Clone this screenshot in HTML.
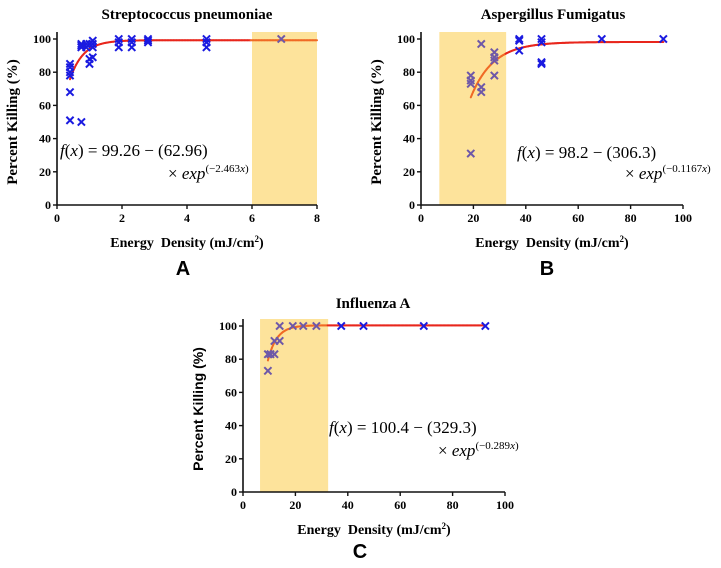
<!DOCTYPE html>
<html><head><meta charset="utf-8"><style>
body{margin:0;background:#fff;width:721px;height:568px;overflow:hidden}
svg{display:block}
.tk{font-family:"Liberation Serif",serif;font-weight:bold;font-size:12px}
.ti{font-family:"Liberation Serif",serif;font-weight:bold;font-size:15px}
.eq{font-family:"Liberation Serif",serif;font-size:17px}
.lt{font-family:"Liberation Sans",sans-serif;font-weight:bold;font-size:20px}
</style></head><body>
<svg id="fig" width="721" height="568"></svg>
<script>
// Panel A data
const aX=[0.4,0.4,0.4,0.4,0.4,0.4,0.75,0.75,0.75,0.75,0.9,0.9,1.0,1.0,1.0,1.1,1.1,1.1,1.1,1.9,1.9,1.9,2.3,2.3,2.3,2.8,2.8,2.8,4.6,4.6,4.6,6.9];
const aY=[85,83,80,78,68,51,97,96,95,50,97,95,88,85,97,99,97,95,89,100,98,95,100,98,95,100,99,98,100,98,95,100];
const aFit=[99.26,62.96,2.463];
// Panel B data
const bX=[19,19,19,19,23,23,23,28,28,28,28,37.5,37.5,37.5,46,46,46,46,69,92.5];
const bY=[78,75,73,31,97,71,68,92,89,87,78,100,99,93,100,98,86,85,100,100];
const bFit=[98.2,306.3,0.1167];
// Panel C data
const cX=[9.5,9.5,10.5,12,12,14,14,19,23,28,37.5,46,69,92.5];
const cY=[83,73,83,91,83,100,91,100,100,100,100,100,100,100];
const cFit=[100.4,329.3,0.289];
const aTicks=[0,2,4,6,8], bTicks=[0,20,40,60,80,100], yTicks=[0,20,40,60,80,100];

const NS="http://www.w3.org/2000/svg";
const svg=document.getElementById('fig');
function el(t,a,p){const e=document.createElementNS(NS,t);for(const k in a)e.setAttribute(k,a[k]);(p||svg).appendChild(e);return e;}
function panel(o){
  const g=el('g',{});
  
  
  const sx=v=>o.x0+(v-o.xmin)/(o.xmax-o.xmin)*(o.x1-o.x0);
  const sy=v=>o.y0-(v/100)*(o.y0-o.y100);
  // shading (beneath)
  const r=el('rect',{x:sx(o.s0),y:o.top,width:sx(o.s1)-sx(o.s0),height:o.y0-o.top,fill:'#fde39b'},g);
  
  
  const inR=x=>x>=o.s0&&x<=o.s1;
  // fit curve
  const N=160;let prev=null;
  for(let i=0;i<=N;i++){const x=o.fs+(o.fe-o.fs)*i/N;const y=o.fit[0]-o.fit[1]*Math.exp(-o.fit[2]*x);
    const p=[sx(x),sy(y)];
    if(prev){const c=el('line',{x1:prev[0],y1:prev[1],x2:p[0],y2:p[1],stroke:inR(x)?'#f06a25':'#e8261c','stroke-width':2,'stroke-linecap':'round'},g);
      
      }
    prev=p;}
  // points
  o.X.forEach((xv,i)=>{const px=sx(xv),py=sy(o.Y[i]),s=3.6;
    const m=el('path',{d:`M${px-s},${py-s}L${px+s},${py+s}M${px-s},${py+s}L${px+s},${py-s}`,stroke:inR(xv)?'#6e58a8':'#1a1ae0','stroke-width':2},g);
    
    });
  // axes
  el('path',{d:`M${o.x0},${o.top}V${o.y0}H${o.x1}`,fill:'none',stroke:'#111','stroke-width':1.6},g);
  yTicks.forEach(t=>{const y=sy(t);el('line',{x1:o.x0-4,x2:o.x0,y1:y,y2:y,stroke:'#111','stroke-width':1.4},g);
    const tx=el('text',{x:o.x0-6,y:y+4,'text-anchor':'end',class:'tk'},g);tx.textContent=t;});
  o.ticks.forEach(t=>{const x=sx(t);el('line',{x1:x,x2:x,y1:o.y0,y2:o.y0+4,stroke:'#111','stroke-width':1.4},g);
    const tx=el('text',{x:x,y:o.y0+17,'text-anchor':'middle',class:'tk'},g);tx.textContent=t;});
  const cx=(o.x0+o.x1)/2;
  const t=el('text',{x:o.tx,y:o.ty,'text-anchor':'middle',class:'ti'},g);t.textContent=o.title;
  
  const xl=el('text',{x:cx,y:o.y0+42,'text-anchor':'middle',class:'tk'},g);
  xl.style.fontSize='14px';
  xl.innerHTML='Energy&#160; Density (mJ/cm<tspan dy="-5" font-size="9">2</tspan><tspan dy="5">)</tspan>';
  
  const yl=el('text',{x:0,y:0,'text-anchor':'middle',class:'tk',transform:`translate(${o.x0-40},${(o.y0+o.y100)/2}) rotate(-90)`},g);
  yl.style.fontSize='15px';
  if(o.sansY){yl.style.fontFamily='"Liberation Sans",sans-serif';yl.style.fontSize='14px';}
  yl.textContent='Percent Killing (%)';
  
  const e1=el('text',{x:o.e1x,y:o.e1y,class:'eq'},g);e1.innerHTML='<tspan font-style="italic">f</tspan>(<tspan font-style="italic">x</tspan>) = '+o.eq1;
  
  const e2=el('text',{x:o.e2x,y:o.e2y,class:'eq'},g);e2.innerHTML='× <tspan font-style="italic">exp</tspan><tspan dy="-7" font-size="11">(−'+o.k+'<tspan font-style="italic">x</tspan>)</tspan>';
  
  const L=el('text',{x:o.lx,y:o.ly,'text-anchor':'middle',class:'lt'},g);L.textContent=o.letter;
  
}
panel({name:'panel-a',X:aX,Y:aY,fit:aFit,fs:0.4,fe:8,xmin:0,xmax:8,x0:57,x1:317,y0:205,y100:39,top:32,s0:6,s1:8,ticks:aTicks,
  title:'Streptococcus pneumoniae',tx:187,ty:19,eq1:'99.26 − (62.96)',k:'2.463',e1x:60,e1y:156,e2x:168,e2y:179,letter:'A',lx:183,ly:275});
panel({name:'panel-b',X:bX,Y:bY,fit:bFit,fs:19,fe:92.5,xmin:0,xmax:100,x0:421,x1:683,y0:205,y100:39,top:32,s0:7,s1:32.5,ticks:bTicks,
  title:'Aspergillus  Fumigatus',tx:553,ty:19,eq1:'98.2 − (306.3)',k:'0.1167',e1x:517,e1y:158,e2x:625,e2y:179,letter:'B',lx:547,ly:275});
panel({name:'panel-c',X:cX,Y:cY,fit:cFit,fs:9.5,fe:92.5,xmin:0,xmax:100,x0:243,x1:505,y0:492,y100:326,top:319,s0:6.5,s1:32.5,ticks:bTicks,sansY:true,
  title:'Influenza  A',tx:373,ty:308,eq1:'100.4 − (329.3)',k:'0.289',e1x:329,e1y:433,e2x:438,e2y:456,letter:'C',lx:360,ly:558});
</script>
</body></html>
